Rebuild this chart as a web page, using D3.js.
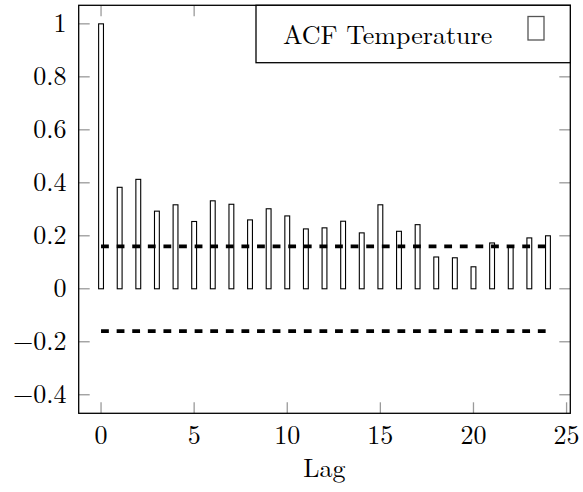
<!DOCTYPE html>
<html>
<head>
<meta charset="utf-8">
<script src="https://cdn.jsdelivr.net/npm/d3@7"></script>
<style>
  html, body { margin: 0; padding: 0; background: #fff; }
</style>
</head>
<body>
<svg id="chart" width="583" height="492"></svg>
<script>
// ---- data ----
const lags = d3.range(0, 25);
const acfValues = [1.0, 0.383, 0.413, 0.293, 0.317, 0.254, 0.332, 0.319, 0.260, 0.302,
                   0.275, 0.226, 0.230, 0.255, 0.211, 0.317, 0.217, 0.242, 0.120, 0.117,
                   0.083, 0.173, 0.160, 0.192, 0.200];
const confBound = 0.16;
const xTicks = [0, 5, 10, 15, 20, 25];
const yTicks = [-0.4, -0.2, 0, 0.2, 0.4, 0.6, 0.8, 1];
const legendLabel = "ACF Temperature";
const xLabel = "Lag";

// ---- layout ----
const FONT = '"Latin Modern Roman", "Liberation Serif", serif';
const FS = 26;
const L = 78.7, R = 570.3, T = 5.3, B = 413.3;
const svg = d3.select("#chart");

const x = d3.scaleLinear().domain([-1.2, 25.2]).range([L, R]);
const y = d3.scaleLinear().domain([-0.47, 1.07]).range([B, T]);

const fmt = v => (v < 0 ? "\u2212" : "") + String(Math.abs(+v.toFixed(1)));
const tickLen = 11;
const tickColor = "#9a9a9a";

// ticks (inward, all four sides)
const gT = svg.append("g");
gT.selectAll("line.xb").data(xTicks).join("line")
  .attr("x1", d => x(d)).attr("x2", d => x(d)).attr("y1", B).attr("y2", B - tickLen)
  .attr("stroke", tickColor).attr("stroke-width", 1.3);
gT.selectAll("line.xt").data(xTicks).join("line")
  .attr("x1", d => x(d)).attr("x2", d => x(d)).attr("y1", T).attr("y2", T + tickLen)
  .attr("stroke", tickColor).attr("stroke-width", 1.3);
gT.selectAll("line.yl").data(yTicks).join("line")
  .attr("x1", L).attr("x2", L + tickLen).attr("y1", d => y(d)).attr("y2", d => y(d))
  .attr("stroke", tickColor).attr("stroke-width", 1.3);
gT.selectAll("line.yr").data(yTicks).join("line")
  .attr("x1", R).attr("x2", R - tickLen).attr("y1", d => y(d)).attr("y2", d => y(d))
  .attr("stroke", tickColor).attr("stroke-width", 1.3);

// tick labels
svg.append("g").selectAll("text").data(xTicks).join("text")
  .style("font-family", FONT).style("font-size", FS + "px")
  .attr("x", d => x(d)).attr("y", 444)
  .attr("text-anchor", "middle")
  .text(d => d);
svg.append("g").selectAll("text").data(yTicks).join("text")
  .style("font-family", FONT).style("font-size", FS + "px")
  .attr("x", 66.5).attr("y", d => y(d) + 8.5)
  .attr("text-anchor", "end")
  .text(d => fmt(d));

// axis label
svg.append("text").style("font-family", FONT).style("font-size", FS + "px")
  .attr("x", (L + R) / 2).attr("y", 477)
  .attr("text-anchor", "middle").text(xLabel);

// bars
const halfW = 0.13;
svg.append("g").selectAll("rect").data(lags).join("rect")
  .attr("x", d => x(d - halfW))
  .attr("width", d => x(d + halfW) - x(d - halfW))
  .attr("y", (d, i) => y(Math.max(0, acfValues[i])))
  .attr("height", (d, i) => Math.abs(y(acfValues[i]) - y(0)))
  .attr("fill", "#fff").attr("stroke", "#000").attr("stroke-width", 1.1);

// confidence bounds (dashed)
[confBound, -confBound].forEach(c => {
  svg.append("line")
    .attr("x1", x(lags[0])).attr("x2", x(lags[lags.length - 1]))
    .attr("y1", y(c)).attr("y2", y(c))
    .attr("stroke", "#000").attr("stroke-width", 3.8)
    .attr("stroke-dasharray", "7.8,7.8");
});

// frame
svg.append("rect").attr("x", L).attr("y", T).attr("width", R - L).attr("height", B - T)
  .attr("fill", "none").attr("stroke", "#000").attr("stroke-width", 1.3);

// legend
const lg = svg.append("g");
lg.append("rect").attr("x", 256).attr("y", T).attr("width", R - 256).attr("height", 62.7 - T)
  .attr("fill", "#fff").attr("stroke", "#000").attr("stroke-width", 1.3);
lg.append("text").style("font-family", FONT).style("font-size", FS + "px")
  .attr("x", 283).attr("y", 44).attr("text-anchor", "start")
  .text(legendLabel);
lg.append("rect").attr("x", 528).attr("y", 16.5).attr("width", 16).attr("height", 23.5)
  .attr("fill", "none").attr("stroke", "#555").attr("stroke-width", 1.3);
</script>
</body>
</html>
